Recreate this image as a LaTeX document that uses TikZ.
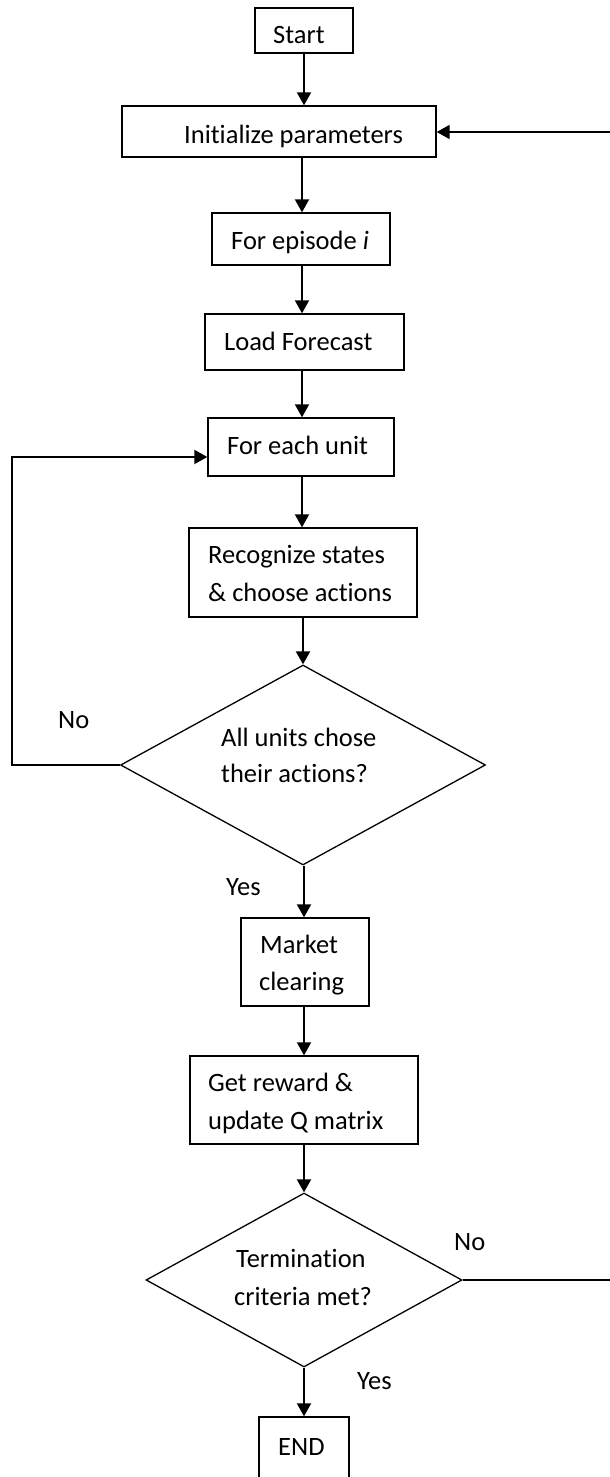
\documentclass[tikz,border=0pt]{standalone}
\usepackage{fontspec}
\setmainfont{Carlito}[Ligatures=NoCommon]
\usetikzlibrary{shapes.geometric,arrows.meta}
\begin{document}
\begin{tikzpicture}[x=1pt,y=-1pt,
  box/.style={draw, line width=1.4pt, rectangle, inner sep=0pt},
  decision/.style={draw, line width=1.3pt, diamond, inner sep=0pt},
  txt/.style={inner sep=0pt, anchor=base west, font=\fontsize{26.5}{38}\selectfont},
  arr/.style={line width=2pt, -{Triangle[length=13pt,width=14pt]}},
  link/.style={line width=1.5pt}]
\useasboundingbox (0,0) rectangle (610,1477);
\fill[white] (0,0) rectangle (610,1477);
\clip (0,0) rectangle (610,1477);

% process boxes and decisions
\node[box, minimum width=98pt,  minimum height=45pt] (start)   at (304,30.5) {};
\node[box, minimum width=314pt, minimum height=51pt] (init)    at (279,131.5) {};
\node[box, minimum width=178pt, minimum height=52pt] (episode) at (301,239) {};
\node[box, minimum width=199pt, minimum height=56pt] (load)    at (304.5,342) {};
\node[box, minimum width=186pt, minimum height=58pt] (unit)    at (301,447) {};
\node[box, minimum width=228pt, minimum height=89pt] (recog)   at (303,572.5) {};
\node[decision, minimum width=365pt, minimum height=200pt] (dia1) at (303,765) {};
\node[box, minimum width=128pt, minimum height=88pt] (market)  at (305,962) {};
\node[box, minimum width=228pt, minimum height=88pt] (reward)  at (304,1100) {};
\node[decision, minimum width=316pt, minimum height=174pt] (dia2) at (304,1280) {};
\node[box, minimum width=90pt,  minimum height=100pt] (end)    at (304,1467) {};

% texts
\node[txt] (startT)   at (273,44)   {Start};
\node[txt] (initT)    at (184,143)  {Initialize parameters};
\node[txt] (episodeT) at (231,249)  {For episode \textit{i}};
\node[txt] (loadT)    at (224,350)  {Load Forecast};
\node[txt] (unitT)    at (227,454)  {For each unit};
\node[txt] (recogA)   at (208,563)  {Recognize states};
\node[txt] (recogB)   at (208,601)  {\& choose actions};
\node[txt] (diaA)     at (221,746)  {All units chose};
\node[txt] (diaB)     at (221,782)  {their actions?};
\node[txt] (noL)      at (58,728)   {No};
\node[txt] (yesA)     at (226,895)  {Yes};
\node[txt] (marketA)  at (260,953)  {Market};
\node[txt] (marketB)  at (259,990)  {clearing};
\node[txt] (rewardA)  at (208,1091) {Get reward \&};
\node[txt] (rewardB)  at (208,1129) {update Q matrix};
\node[txt] (termA)    at (236,1267) {Termination};
\node[txt] (termB)    at (234,1305) {criteria met?};
\node[txt] (noR)      at (454,1250) {No};
\node[txt] (yesB)     at (357,1389) {Yes};
\node[txt] (endT)     at (278,1455) {END};

% vertical axes of the main flow
\coordinate (ax) at (302,0);
\coordinate (bx) at (304,0);

% main flow
\draw[arr] (start.south -| bx) -- (init.north -| bx);
\draw[arr] (init.south -| ax) -- (episode.north -| ax);
\draw[arr] (episode.south -| ax) -- (load.north -| ax);
\draw[arr] (load.south -| ax) -- (unit.north -| ax);
\draw[arr] (unit.south -| ax) -- (recog.north -| ax);
\draw[arr] (recog.south -| dia1.north) -- (dia1.north);
\draw[arr] (dia1.south -| bx) -- (market.north -| bx);
\draw[arr] (market.south -| bx) -- (reward.north -| bx);
\draw[arr] (reward.south -| bx) -- (dia2.north);
\draw[arr] (dia2.south) -- (end.north);

% loop back to "For each unit"
\coordinate (lb) at (12,765);
\coordinate (lt) at (12,457);
\draw[arr] (dia1.west) -- (lb) -- (lt) -- (lt -| unit.west);

% loop back to "Initialize parameters"
\coordinate (rOut) at (610,1280);
\draw[link] (dia2.east) -- (rOut);
\coordinate (rIn) at (610,132);
\draw[arr] (rIn) -- (rIn -| init.east);
\end{tikzpicture}
\end{document}
